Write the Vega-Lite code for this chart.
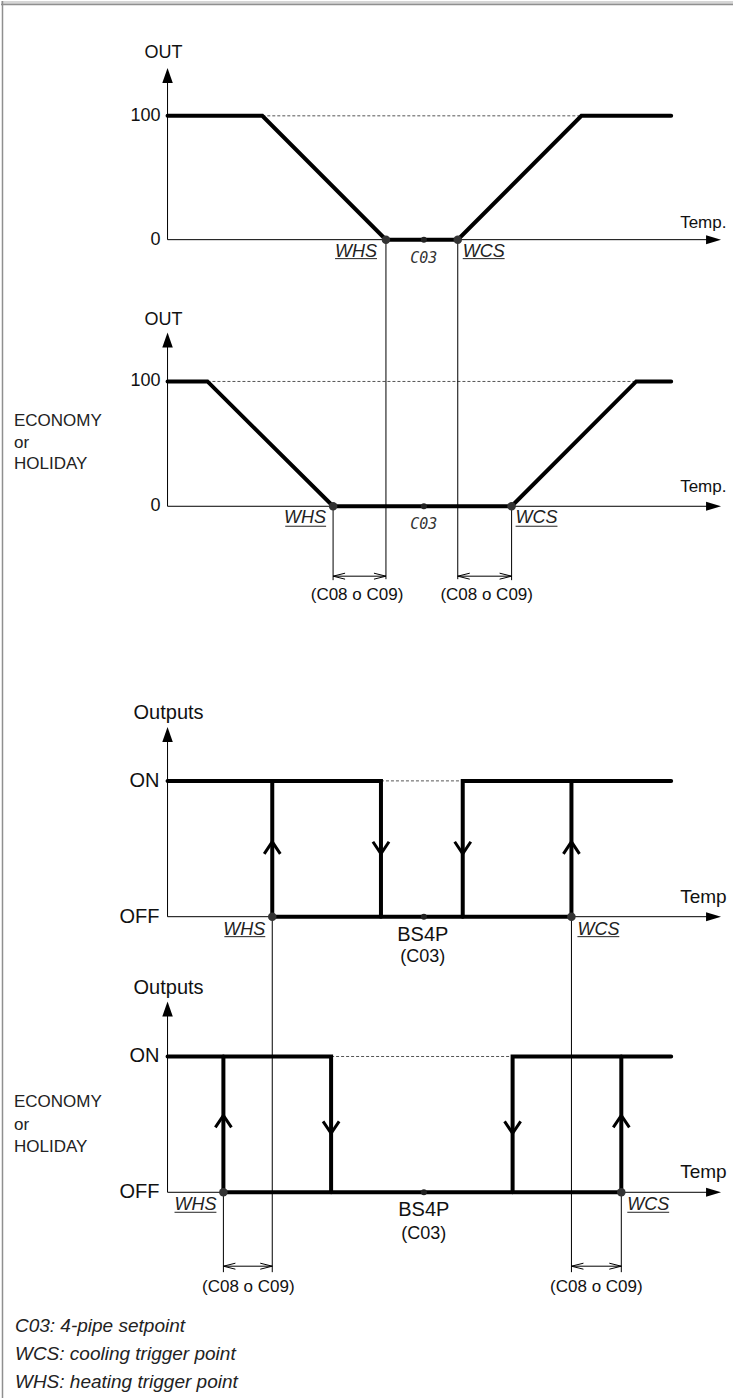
{
  "$schema": "https://vega.github.io/schema/vega-lite/v6.json",
  "width": 734,
  "height": 1399,
  "autosize": {"type": "fit", "contains": "padding"},
  "padding": 0,
  "background": "white",
  "config": {"view": {"stroke": null}, "text": {"font": "Liberation Sans", "color": "#111"}},
  "datasets": {
    "frameRect": [{"x": 0, "y": 0, "x2": 734, "y2": 3}],
    "frameLine": [{"x": 0, "y": 3.5, "x2": 734, "y2": 3.5}, {"x": 1.5, "y": 0, "x2": 1.5, "y2": 1399}],
    "dash": [
      {"x": 262, "y": 115, "x2": 582, "y2": 115},
      {"x": 207, "y": 381, "x2": 637, "y2": 381},
      {"x": 381, "y": 781, "x2": 463, "y2": 781},
      {"x": 331, "y": 1057, "x2": 513, "y2": 1057}
    ],
    "thin": [
      {"x": 167, "y": 239, "x2": 167, "y2": 78},
      {"x": 167, "y": 239, "x2": 710, "y2": 239},
      {"x": 167, "y": 506, "x2": 167, "y2": 345},
      {"x": 167, "y": 506, "x2": 710, "y2": 506},
      {"x": 167, "y": 917, "x2": 167, "y2": 740},
      {"x": 167, "y": 917, "x2": 710, "y2": 917},
      {"x": 167, "y": 1193, "x2": 167, "y2": 1015},
      {"x": 167, "y": 1193, "x2": 710, "y2": 1193},
      {"x": 386, "y": 239, "x2": 386, "y2": 579},
      {"x": 458, "y": 239, "x2": 458, "y2": 579},
      {"x": 333, "y": 506, "x2": 333, "y2": 580},
      {"x": 512, "y": 506, "x2": 512, "y2": 580},
      {"x": 272, "y": 917, "x2": 272, "y2": 1273},
      {"x": 572, "y": 917, "x2": 572, "y2": 1273},
      {"x": 223, "y": 1193, "x2": 223, "y2": 1273},
      {"x": 622, "y": 1193, "x2": 622, "y2": 1273},
      {"x": 333, "y": 576, "x2": 386, "y2": 576},
      {"x": 458, "y": 576, "x2": 512, "y2": 576},
      {"x": 223, "y": 1267, "x2": 272, "y2": 1267},
      {"x": 572, "y": 1267, "x2": 622, "y2": 1267}
    ],
    "thick": [
      {"path": "p1", "i": 1, "x": 167, "y": 115}, {"path": "p1", "i": 2, "x": 262, "y": 115},
      {"path": "p1", "i": 3, "x": 386, "y": 239}, {"path": "p1", "i": 4, "x": 458, "y": 239},
      {"path": "p1", "i": 5, "x": 582, "y": 115}, {"path": "p1", "i": 6, "x": 672, "y": 115},
      {"path": "p2", "i": 1, "x": 167, "y": 381}, {"path": "p2", "i": 2, "x": 207, "y": 381},
      {"path": "p2", "i": 3, "x": 333, "y": 506}, {"path": "p2", "i": 4, "x": 512, "y": 506},
      {"path": "p2", "i": 5, "x": 637, "y": 381}, {"path": "p2", "i": 6, "x": 672, "y": 381},
      {"path": "p3a", "i": 1, "x": 167, "y": 781}, {"path": "p3a", "i": 2, "x": 381, "y": 781}, {"path": "p3a", "i": 3, "x": 381, "y": 917},
      {"path": "p3b", "i": 1, "x": 672, "y": 781}, {"path": "p3b", "i": 2, "x": 463, "y": 781}, {"path": "p3b", "i": 3, "x": 463, "y": 917},
      {"path": "p3c", "i": 1, "x": 272, "y": 917}, {"path": "p3c", "i": 2, "x": 572, "y": 917},
      {"path": "p3d", "i": 1, "x": 272, "y": 917}, {"path": "p3d", "i": 2, "x": 272, "y": 781},
      {"path": "p3e", "i": 1, "x": 572, "y": 917}, {"path": "p3e", "i": 2, "x": 572, "y": 781},
      {"path": "p4a", "i": 1, "x": 167, "y": 1057}, {"path": "p4a", "i": 2, "x": 331, "y": 1057}, {"path": "p4a", "i": 3, "x": 331, "y": 1193},
      {"path": "p4b", "i": 1, "x": 672, "y": 1057}, {"path": "p4b", "i": 2, "x": 513, "y": 1057}, {"path": "p4b", "i": 3, "x": 513, "y": 1193},
      {"path": "p4c", "i": 1, "x": 223, "y": 1193}, {"path": "p4c", "i": 2, "x": 622, "y": 1193},
      {"path": "p4d", "i": 1, "x": 223, "y": 1193}, {"path": "p4d", "i": 2, "x": 223, "y": 1057},
      {"path": "p4e", "i": 1, "x": 622, "y": 1193}, {"path": "p4e", "i": 2, "x": 622, "y": 1057}
    ],
    "arrowUp": [{"x": 167, "y": 67}, {"x": 167, "y": 332}, {"x": 167, "y": 727}, {"x": 167, "y": 1002}],
    "arrowRight": [{"x": 722, "y": 239}, {"x": 722, "y": 506}, {"x": 722, "y": 917}, {"x": 722, "y": 1193}],
    "chevUp": [{"x": 272, "y": 842}, {"x": 572, "y": 842}, {"x": 223, "y": 1116}, {"x": 622, "y": 1116}],
    "chevDown": [{"x": 381, "y": 854}, {"x": 463, "y": 854}, {"x": 331, "y": 1134}, {"x": 513, "y": 1134}],
    "dimL": [{"x": 333, "y": 576}, {"x": 458, "y": 576}, {"x": 223, "y": 1267}, {"x": 572, "y": 1267}],
    "dimR": [{"x": 386, "y": 576}, {"x": 512, "y": 576}, {"x": 272, "y": 1267}, {"x": 622, "y": 1267}],
    "dotBig": [
      {"x": 386, "y": 239}, {"x": 458, "y": 239}, {"x": 333, "y": 506}, {"x": 512, "y": 506},
      {"x": 272, "y": 917}, {"x": 572, "y": 917}, {"x": 223, "y": 1193}, {"x": 622, "y": 1193}
    ],
    "dotSmall": [{"x": 424, "y": 239}, {"x": 424, "y": 506}, {"x": 424, "y": 917}, {"x": 424, "y": 1193}],
    "underline": [
      {"x": 335, "y": 258, "x2": 377, "y2": 258}, {"x": 463, "y": 258, "x2": 505, "y2": 258},
      {"x": 285, "y": 526, "x2": 326, "y2": 526}, {"x": 516, "y": 526, "x2": 558, "y2": 526},
      {"x": 224, "y": 937, "x2": 265, "y2": 937}, {"x": 578, "y": 937, "x2": 620, "y2": 937},
      {"x": 174, "y": 1213, "x2": 216, "y2": 1213}, {"x": 628, "y": 1213, "x2": 670, "y2": 1213}
    ],
    "title18": [{"x": 163, "y": 52, "t": "OUT"}, {"x": 163, "y": 319, "t": "OUT"}],
    "tick18": [{"x": 160, "y": 115, "t": "100"}, {"x": 160, "y": 239, "t": "0"}, {"x": 160, "y": 381, "t": "100"}, {"x": 160, "y": 506, "t": "0"}],
    "temp17": [{"x": 681, "y": 222, "t": "Temp."}, {"x": 681, "y": 487, "t": "Temp."}],
    "title20": [{"x": 168, "y": 713, "t": "Outputs"}, {"x": 168, "y": 988, "t": "Outputs"}, {"x": 423, "y": 935, "t": "BS4P"}, {"x": 424, "y": 1211, "t": "BS4P"}],
    "tick20": [{"x": 159, "y": 781, "t": "ON"}, {"x": 159, "y": 917, "t": "OFF"}, {"x": 159, "y": 1057, "t": "ON"}, {"x": 159, "y": 1193, "t": "OFF"}],
    "temp19": [{"x": 681, "y": 897, "t": "Temp"}, {"x": 681, "y": 1173, "t": "Temp"}],
    "trigR": [{"x": 377, "y": 251, "t": "WHS"}, {"x": 326, "y": 518, "t": "WHS"}, {"x": 265, "y": 930, "t": "WHS"}, {"x": 216, "y": 1206, "t": "WHS"}],
    "trigL": [{"x": 463, "y": 251, "t": "WCS"}, {"x": 516, "y": 518, "t": "WCS"}, {"x": 578, "y": 930, "t": "WCS"}, {"x": 628, "y": 1206, "t": "WCS"}],
    "c03": [{"x": 424, "y": 257, "t": "C03"}, {"x": 424, "y": 524, "t": "C03"}],
    "paren": [{"x": 423, "y": 957, "t": "(C03)"}, {"x": 424, "y": 1235, "t": "(C03)"}],
    "mode": [
      {"x": 13, "y": 421, "t": "ECONOMY"}, {"x": 13, "y": 443, "t": "or"}, {"x": 13, "y": 464, "t": "HOLIDAY"},
      {"x": 13, "y": 1103, "t": "ECONOMY"}, {"x": 13, "y": 1126, "t": "or"}, {"x": 13, "y": 1148, "t": "HOLIDAY"}
    ],
    "param": [
      {"x": 357, "y": 595, "t": "(C08 o C09)"}, {"x": 487, "y": 595, "t": "(C08 o C09)"},
      {"x": 248, "y": 1288, "t": "(C08 o C09)"}, {"x": 597, "y": 1288, "t": "(C08 o C09)"}
    ],
    "notes": [
      {"x": 14, "y": 1327, "t": "C03: 4-pipe setpoint"},
      {"x": 14, "y": 1355, "t": "WCS: cooling trigger point"},
      {"x": 14, "y": 1383, "t": "WHS: heating trigger point"}
    ]
  },
  "encoding": {
    "x": {"field": "x", "type": "quantitative", "scale": {"domain": [0, 734], "nice": false, "zero": false}, "axis": null},
    "y": {"field": "y", "type": "quantitative", "scale": {"domain": [0, 1399], "nice": false, "zero": false, "reverse": true}, "axis": null}
  },
  "layer": [
    {"data": {"name": "frameRect"}, "mark": {"type": "rect", "color": "#d6d6d6"}, "encoding": {"x2": {"field": "x2"}, "y2": {"field": "y2"}}},
    {"data": {"name": "frameLine"}, "mark": {"type": "rule", "color": "#8f8f8f", "strokeWidth": 1.5}, "encoding": {"x2": {"field": "x2"}, "y2": {"field": "y2"}}},
    {"data": {"name": "dash"}, "mark": {"type": "rule", "color": "#555", "strokeWidth": 1, "strokeDash": [3, 2]}, "encoding": {"x2": {"field": "x2"}, "y2": {"field": "y2"}}},
    {"data": {"name": "thin"}, "mark": {"type": "rule", "color": "#000", "strokeWidth": 1}, "encoding": {"x2": {"field": "x2"}, "y2": {"field": "y2"}}},
    {"data": {"name": "underline"}, "mark": {"type": "rule", "color": "#222", "strokeWidth": 1}, "encoding": {"x2": {"field": "x2"}, "y2": {"field": "y2"}}},
    {"data": {"name": "thick"}, "mark": {"type": "line", "color": "#000", "strokeWidth": 4, "strokeCap": "round", "strokeJoin": "miter"}, "encoding": {"detail": {"field": "path"}, "order": {"field": "i", "type": "quantitative"}}},
    {"data": {"name": "arrowUp"}, "mark": {"type": "point", "shape": "M0,0L0.7,2L-0.7,2Z", "size": 225, "filled": true, "color": "#000", "opacity": 1, "strokeWidth": 0}},
    {"data": {"name": "arrowRight"}, "mark": {"type": "point", "shape": "M0,0L-2,-0.6L-2,0.6Z", "size": 225, "filled": true, "color": "#000", "opacity": 1, "strokeWidth": 0}},
    {"data": {"name": "chevUp"}, "mark": {"type": "point", "shape": "M-0.67,1L0,0L0.67,1", "size": 576, "filled": false, "color": "#000", "opacity": 1, "strokeWidth": 3}},
    {"data": {"name": "chevDown"}, "mark": {"type": "point", "shape": "M-0.67,-1L0,0L0.67,-1", "size": 576, "filled": false, "color": "#000", "opacity": 1, "strokeWidth": 3}},
    {"data": {"name": "dimL"}, "mark": {"type": "point", "shape": "M2,-0.5L0,0L2,0.5", "size": 144, "filled": false, "color": "#000", "opacity": 1, "strokeWidth": 1}},
    {"data": {"name": "dimR"}, "mark": {"type": "point", "shape": "M-2,-0.5L0,0L-2,0.5", "size": 144, "filled": false, "color": "#000", "opacity": 1, "strokeWidth": 1}},
    {"data": {"name": "dotBig"}, "mark": {"type": "circle", "color": "#333", "opacity": 1, "size": 72}},
    {"data": {"name": "dotSmall"}, "mark": {"type": "circle", "color": "#222", "opacity": 1, "size": 36}},
    {"data": {"name": "title18"}, "mark": {"type": "text", "fontSize": 18, "align": "center"}, "encoding": {"text": {"field": "t"}}},
    {"data": {"name": "tick18"}, "mark": {"type": "text", "fontSize": 18, "align": "right"}, "encoding": {"text": {"field": "t"}}},
    {"data": {"name": "temp17"}, "mark": {"type": "text", "fontSize": 17, "align": "left"}, "encoding": {"text": {"field": "t"}}},
    {"data": {"name": "title20"}, "mark": {"type": "text", "fontSize": 20, "align": "center"}, "encoding": {"text": {"field": "t"}}},
    {"data": {"name": "tick20"}, "mark": {"type": "text", "fontSize": 20, "align": "right"}, "encoding": {"text": {"field": "t"}}},
    {"data": {"name": "temp19"}, "mark": {"type": "text", "fontSize": 19, "align": "left"}, "encoding": {"text": {"field": "t"}}},
    {"data": {"name": "trigR"}, "mark": {"type": "text", "fontSize": 18, "fontStyle": "italic", "align": "right", "color": "#222"}, "encoding": {"text": {"field": "t"}}},
    {"data": {"name": "trigL"}, "mark": {"type": "text", "fontSize": 18, "fontStyle": "italic", "align": "left", "color": "#222"}, "encoding": {"text": {"field": "t"}}},
    {"data": {"name": "c03"}, "mark": {"type": "text", "fontSize": 15, "fontStyle": "italic", "font": "DejaVu Sans Mono", "align": "center", "color": "#333"}, "encoding": {"text": {"field": "t"}}},
    {"data": {"name": "paren"}, "mark": {"type": "text", "fontSize": 18, "align": "center"}, "encoding": {"text": {"field": "t"}}},
    {"data": {"name": "mode"}, "mark": {"type": "text", "fontSize": 17, "align": "left", "color": "#222"}, "encoding": {"text": {"field": "t"}}},
    {"data": {"name": "param"}, "mark": {"type": "text", "fontSize": 17, "align": "center"}, "encoding": {"text": {"field": "t"}}},
    {"data": {"name": "notes"}, "mark": {"type": "text", "fontSize": 19, "fontStyle": "italic", "align": "left", "color": "#222"}, "encoding": {"text": {"field": "t"}}}
  ]
}
